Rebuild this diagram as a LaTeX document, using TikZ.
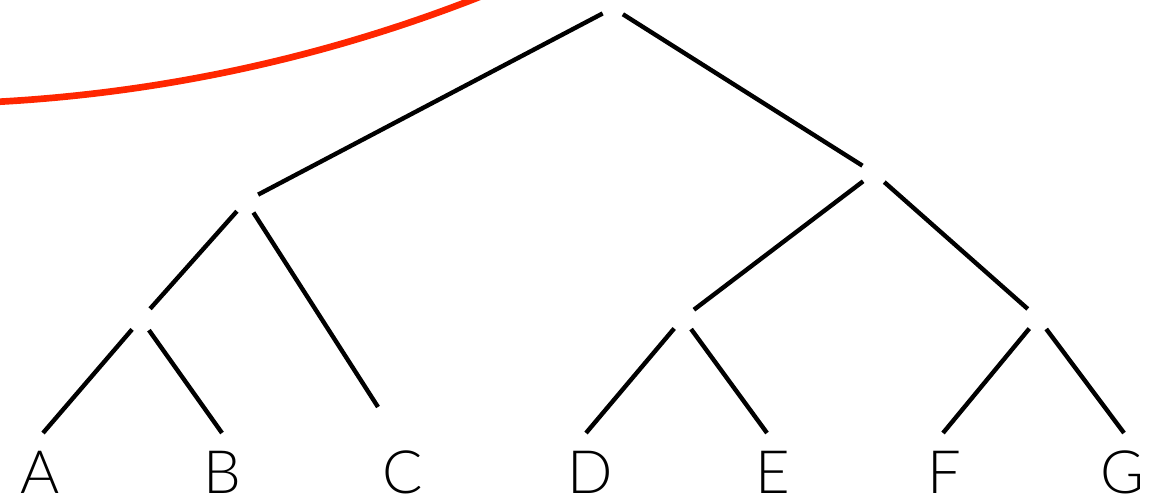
\documentclass[tikz,border=0pt]{standalone}
\usepackage{fontspec}
\usepackage{xcolor}
\usepackage{tikz}
\usetikzlibrary{positioning}

\newfontfamily\lblfont{Lato}[UprightFont=*-Light]
\definecolor{cutred}{RGB}{255,38,0}

\begin{document}
\begin{tikzpicture}[
          gap/.style={circle, minimum size=0.26cm, inner sep=0pt},
          rootgap/.style={gap, minimum size=0.22cm},
          branch/.style={line width=1.25pt, black},
          leaflabel/.style={font=\lblfont\fontsize{17}{20}\selectfont, anchor=base, inner sep=0pt}
        ]
          \useasboundingbox (0,0) rectangle (11.73,4.99);

          % cut line
          \begin{scope}
            \clip (0,0) rectangle (11.73,4.99);
            \draw[cutred, line width=1.9pt] (-0.864,19.429) ++(-89:15.48)
              arc[start angle=-89, end angle=-66, radius=15.48];
          \end{scope}

          % inner nodes
          \node[rootgap] (root) at (6.13,4.91) {};
          \node[gap] (n1) at (2.46,2.98) {};
          \node[gap] (n2) at (1.41,1.80) {};
          \node[gap] (n3) at (8.74,3.26) {};
          \node[gap] (n4) at (6.83,1.81) {};
          \node[gap] (n5) at (10.38,1.81) {};

          % leaf ends
          \coordinate (a) at (0.43,0.66);
          \coordinate (b) at (2.22,0.66);
          \coordinate (c) at (3.78,0.92);
          \coordinate (d) at (5.86,0.66);
          \coordinate (e) at (7.67,0.66);
          \coordinate (f) at (9.43,0.66);
          \coordinate (g) at (11.24,0.66);

          % labels
          \node[leaflabel] (la) at (0.40,0.06) {A};
          \node[leaflabel] (lb) at (2.22,0.06) {B};
          \node[leaflabel] (lc) at (4.025,0.06) {C};
          \node[leaflabel] (ld) at (5.90,0.06) {D};
          \node[leaflabel] (le) at (7.725,0.06) {E};
          \node[leaflabel] (lf) at (9.445,0.06) {F};
          \node[leaflabel] (lg) at (11.22,0.06) {G};

          \draw[branch] (root) -- (n1);
          \draw[branch] (root) -- (n3);
          \draw[branch] (n1) -- (n2);
          \draw[branch] (n1) -- (c);
          \draw[branch] (n2) -- (a);
          \draw[branch] (n2) -- (b);
          \draw[branch] (n3) -- (n4);
          \draw[branch] (n3) -- (n5);
          \draw[branch] (n4) -- (d);
          \draw[branch] (n4) -- (e);
          \draw[branch] (n5) -- (f);
          \draw[branch] (n5) -- (g);
        \end{tikzpicture}
\end{document}
